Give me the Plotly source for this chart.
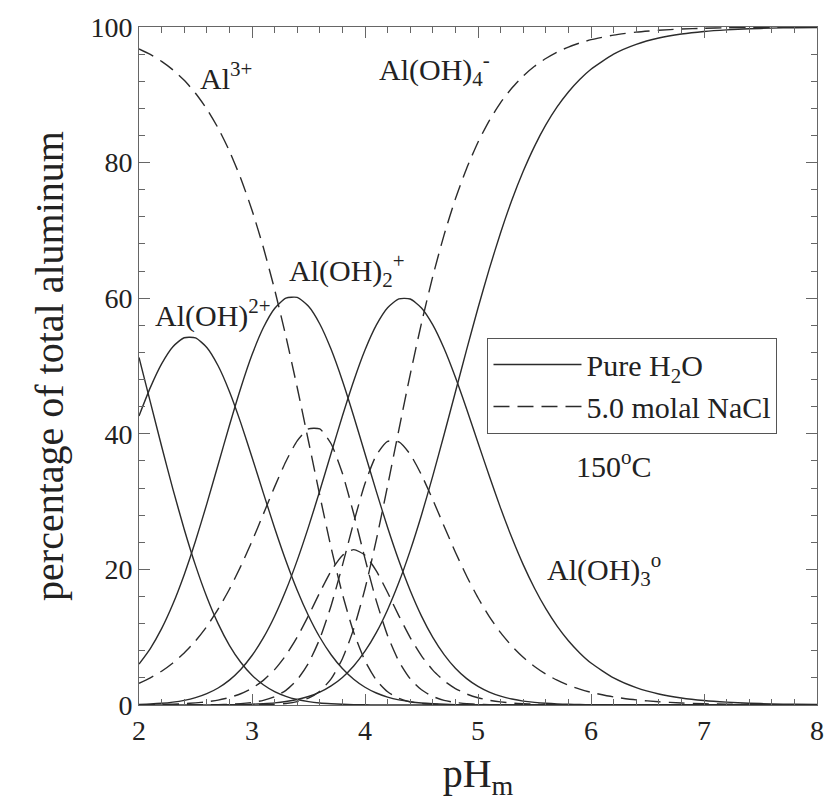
import plotly.graph_objects as go

# pH grid (x)
ph = [2.0, 2.1, 2.2, 2.3, 2.4, 2.5, 2.6, 2.7, 2.8, 2.9,
      3.0, 3.1, 3.2, 3.3, 3.4, 3.5, 3.6, 3.7, 3.8, 3.9,
      4.0, 4.1, 4.2, 4.3, 4.4, 4.5, 4.6, 4.7, 4.8, 4.9,
      5.0, 5.1, 5.2, 5.3, 5.4, 5.5, 5.6, 5.7, 5.8, 5.9,
      6.0, 6.2, 6.4, 6.6, 6.8, 7.0, 7.2, 7.4, 7.6, 7.8, 8.0]

# Pure H2O (solid curves), percentage of total aluminum
water_al3 = [51.25, 44.71, 38.17, 31.84, 25.93, 20.59, 15.93, 12.00, 8.81, 6.30,
             4.39, 2.99, 1.98, 1.28, 0.81, 0.50, 0.30, 0.18, 0.10, 0.06,
             0.03, 0.02, 0.01, 0, 0, 0, 0, 0, 0, 0,
             0, 0, 0, 0, 0, 0, 0, 0, 0, 0,
             0, 0, 0, 0, 0, 0, 0, 0, 0, 0, 0]
water_aloh = [42.64, 46.81, 50.31, 52.85, 54.17, 54.14, 52.74, 50.04, 46.25, 41.65,
              36.55, 31.29, 26.12, 21.29, 16.94, 13.17, 9.99, 7.41, 5.37, 3.80,
              2.62, 1.77, 1.17, 0.75, 0.48, 0.29, 0.18, 0.11, 0.06, 0.03,
              0.02, 0.01, 0, 0, 0, 0, 0, 0, 0, 0,
              0, 0, 0, 0, 0, 0, 0, 0, 0, 0, 0]
water_aloh2 = [6.03, 8.33, 11.26, 14.89, 19.22, 24.18, 29.66, 35.43, 41.23, 46.73,
               51.65, 55.64, 58.49, 60.01, 60.11, 58.81, 56.20, 52.46, 47.83, 42.60,
               37.06, 31.51, 26.17, 21.26, 16.88, 13.11, 9.97, 7.43, 5.42, 3.89,
               2.74, 1.90, 1.30, 0.88, 0.58, 0.39, 0.25, 0.16, 0.11, 0.07,
               0.04, 0.02, 0.01, 0, 0, 0, 0, 0, 0, 0, 0]
water_aloh3 = [0.09, 0.15, 0.25, 0.42, 0.68, 1.08, 1.67, 2.51, 3.67, 5.24,
               7.30, 9.89, 13.09, 16.91, 21.33, 26.27, 31.60, 37.14, 42.63, 47.80,
               52.36, 56.03, 58.60, 59.90, 59.88, 58.57, 56.07, 52.58, 48.34, 43.63,
               38.68, 33.77, 29.04, 24.66, 20.70, 17.22, 14.20, 11.63, 9.47, 7.68,
               6.19, 4.00, 2.56, 1.63, 1.04, 0.66, 0.42, 0.26, 0.17, 0.10, 0.07]
water_aloh4 = [0, 0, 0, 0, 0, 0.01, 0.01, 0.02, 0.04, 0.06,
               0.11, 0.19, 0.31, 0.51, 0.81, 1.26, 1.90, 2.82, 4.07, 5.75,
               7.93, 10.67, 14.06, 18.09, 22.77, 28.03, 33.79, 39.89, 46.17, 52.45,
               58.56, 64.33, 69.66, 74.47, 78.71, 82.40, 85.55, 88.21, 90.42, 92.26,
               93.77, 96.00, 97.44, 98.37, 98.96, 99.34, 99.58, 99.74, 99.83, 99.90, 99.93]

# 5.0 molal NaCl (dashed curves)
nacl_al3 = [96.76, 95.95, 94.93, 93.68, 92.13, 90.23, 87.91, 85.09, 81.72, 77.70,
            72.98, 67.51, 61.29, 54.36, 46.83, 38.90, 30.89, 23.21, 16.36, 10.72,
            6.52, 3.68, 1.95, 0.97, 0.47, 0.21, 0.10, 0.04, 0.02, 0.01,
            0, 0, 0, 0, 0, 0, 0, 0, 0, 0,
            0, 0, 0, 0, 0, 0, 0, 0, 0, 0, 0]
nacl_aloh = [3.20, 4.00, 4.98, 6.19, 7.67, 9.45, 11.59, 14.13, 17.07, 20.44,
             24.16, 28.14, 32.17, 35.92, 38.95, 40.73, 40.71, 38.53, 34.17, 28.20,
             21.58, 15.36, 10.23, 6.44, 3.87, 2.24, 1.26, 0.69, 0.37, 0.20,
             0.10, 0.05, 0.03, 0.01, 0.01, 0, 0, 0, 0, 0,
             0, 0, 0, 0, 0, 0, 0, 0, 0, 0, 0]
nacl_aloh2 = [0.03, 0.05, 0.08, 0.13, 0.20, 0.31, 0.47, 0.72, 1.10, 1.66,
              2.47, 3.63, 5.22, 7.33, 10.01, 13.18, 16.59, 19.76, 22.06, 22.92,
              22.09, 19.78, 16.59, 13.15, 9.95, 7.26, 5.14, 3.56, 2.42, 1.62,
              1.07, 0.70, 0.46, 0.29, 0.19, 0.12, 0.08, 0.05, 0.03, 0.02,
              0.01, 0, 0, 0, 0, 0, 0, 0, 0, 0, 0]
nacl_aloh3 = [0, 0, 0, 0, 0.01, 0.01, 0.03, 0.05, 0.10, 0.20,
              0.37, 0.68, 1.22, 2.16, 3.72, 6.17, 9.77, 14.65, 20.59, 26.93,
              32.67, 36.84, 38.89, 38.80, 36.97, 33.94, 30.27, 26.37, 22.54, 18.99,
              15.82, 13.05, 10.68, 8.69, 7.04, 5.68, 4.56, 3.66, 2.93, 2.34,
              1.87, 1.19, 0.75, 0.48, 0.30, 0.19, 0.12, 0.08, 0.05, 0.03, 0.02]
nacl_aloh4 = [0, 0, 0, 0, 0, 0, 0, 0, 0, 0.01,
              0.02, 0.04, 0.10, 0.23, 0.49, 1.02, 2.04, 3.85, 6.82, 11.23,
              17.14, 24.34, 32.34, 40.63, 48.74, 56.34, 63.23, 69.34, 74.65, 79.18,
              83.01, 86.20, 88.84, 91.00, 92.77, 94.21, 95.35, 96.30, 97.04, 97.64,
              98.13, 98.81, 99.25, 99.52, 99.70, 99.81, 99.88, 99.92, 99.95, 99.97, 99.98]

series_names = ["Pure H<sub>2</sub>O", "5.0 molal NaCl"]
x_ticks = [2, 3, 4, 5, 6, 7, 8]
y_ticks = [0, 20, 40, 60, 80, 100]

species_labels = ["Al<sup>3+</sup>", "Al(OH)<sup>2+</sup>", "Al(OH)<sub>2</sub><sup>+</sup>",
                  "Al(OH)<sub>4</sub><sup>-</sup>", "Al(OH)<sub>3</sub><sup>o</sup>", "150<sup>o</sup>C"]
label_x = [2.52, 2.12, 3.31, 4.11, 5.59, 5.85]
label_y = [92.8, 57.7, 64.1, 93.7, 20.0, 35.5]

FONT = "Liberation Serif, Times New Roman, serif"
LINE = "#2b2b2b"
AX = "#666666"

fig = go.Figure()
water = [water_al3, water_aloh, water_aloh2, water_aloh3, water_aloh4]
nacl = [nacl_al3, nacl_aloh, nacl_aloh2, nacl_aloh3, nacl_aloh4]
for i, ys in enumerate(water):
    fig.add_trace(go.Scatter(x=ph, y=ys, mode="lines", name=series_names[0],
                             legendgroup="w", showlegend=(i == 0),
                             line=dict(color=LINE, width=1.4, shape="spline", smoothing=0.6)))
for i, ys in enumerate(nacl):
    fig.add_trace(go.Scatter(x=ph, y=ys, mode="lines", name=series_names[1],
                             legendgroup="n", showlegend=(i == 0),
                             line=dict(color=LINE, width=1.4, dash="16px,8px",
                                       shape="spline", smoothing=0.6)))

for t, lx, ly in zip(species_labels, label_x, label_y):
    fig.add_annotation(x=lx, y=ly, xref="x", yref="y", text=t, showarrow=False,
                       xanchor="left", yanchor="middle",
                       font=dict(family=FONT, size=30, color="#222"))

axis_common = dict(showline=True, linecolor=AX, linewidth=1, mirror="ticks",
                   ticks="inside", tickcolor=AX, tickwidth=1, ticklen=11,
                   showgrid=False, zeroline=False,
                   tickfont=dict(family=FONT, size=28, color="#222"))

fig.update_xaxes(range=[2, 8], tickvals=x_ticks,
                 minor=dict(dtick=0.2, tick0=2, ticks="inside", ticklen=6, tickcolor=AX, showgrid=False),
                 title=dict(text="pH<sub>m</sub>", font=dict(family=FONT, size=40, color="#222"), standoff=14),
                 **axis_common)
fig.update_yaxes(range=[0, 100], tickvals=y_ticks,
                 minor=dict(dtick=4, tick0=0, ticks="inside", ticklen=6, tickcolor=AX, showgrid=False),
                 title=dict(text="percentage of total aluminum", font=dict(family=FONT, size=40, color="#222"), standoff=14),
                 **axis_common)

fig.update_layout(
    width=836, height=810,
    margin=dict(l=139, r=18, t=24, b=105),
    paper_bgcolor="white", plot_bgcolor="white",
    showlegend=True,
    legend=dict(x=0.514, y=0.542, xanchor="left", yanchor="top",
                bordercolor="#555", borderwidth=1, bgcolor="white",
                font=dict(family=FONT, size=30, color="#222"),
                itemwidth=88, tracegroupgap=0),
)

fig.write_html("out.html")
